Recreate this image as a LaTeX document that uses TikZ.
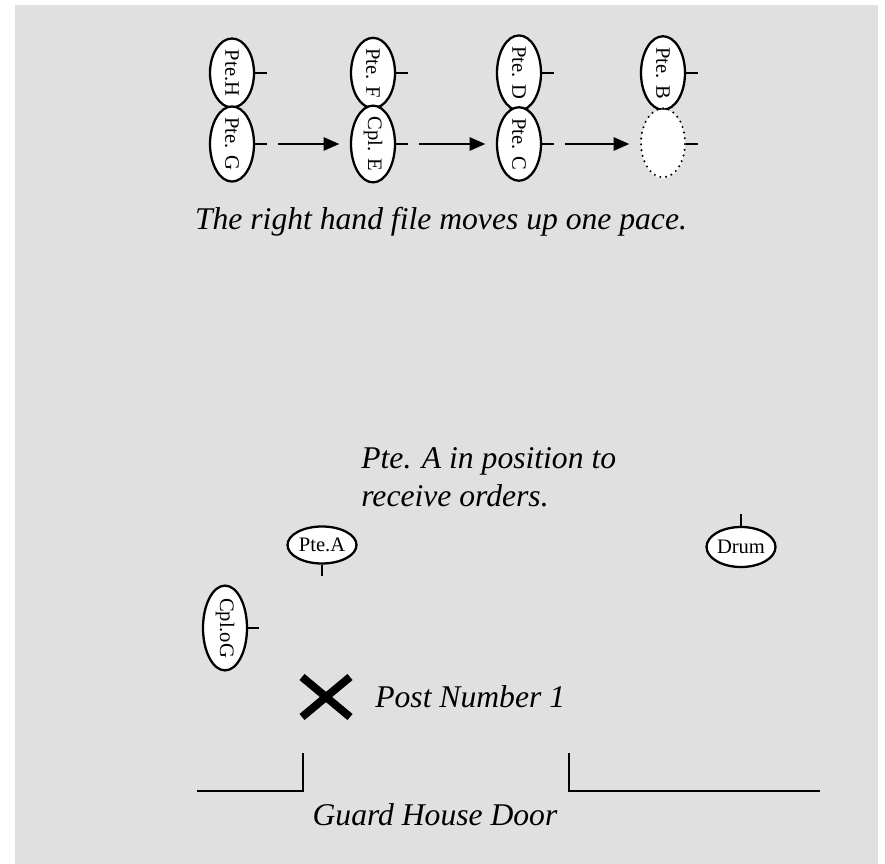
\documentclass[tikz,border=0pt]{standalone}
\usepackage{fontspec}
\setmainfont{Liberation Serif}
\usetikzlibrary{shapes.geometric,arrows.meta,calc}
\definecolor{bggray}{HTML}{E0E0E0}
\begin{document}
\begin{tikzpicture}[x=0.02cm,y=-0.02cm,
  man/.style={draw, ellipse, fill=white, line width=1.3pt, inner sep=0pt,
    font=\fontsize{11.7}{13}\selectfont},
  upright/.style={man, minimum width=0.88cm, minimum height=1.38cm},
  flat/.style={man, minimum width=1.38cm, minimum height=0.74cm},
  gap/.style={man, draw=none},
  move/.style={-{Triangle[length=9pt,width=7.5pt]}, line width=1.3pt,
    shorten <=0.46cm, shorten >=0.21cm},
  tick/.style={line width=1.3pt},
  wall/.style={line width=1.6pt},
  words/.style={font=\fontsize{18}{21.6}\selectfont\itshape, inner sep=0pt}]
\useasboundingbox (0,0) rectangle (885,864);
\fill[bggray] (15,5) rectangle (878,864);
% the two files
\node[upright] (h) at (232,73) {\rotatebox{-90}{Pte.H}};
\node[upright] (g) at (232,144) {\rotatebox{-90}{Pte. G}};
\node[upright] (f) at (373,73) {\rotatebox{-90}{Pte. F}};
\node[upright] (e) at (373,144) {\rotatebox{-90}{Cpl. E}};
\node[upright] (d) at (519,73) {\rotatebox{-90}{Pte. D}};
\node[upright] (c) at (519,144) {\rotatebox{-90}{Pte. C}};
\node[upright] (b) at (663,73) {\rotatebox{-90}{Pte. B}};
\node[upright, draw=none] (x) at (663,144) {};
\draw[line width=1.3pt, dash pattern=on 0pt off 3.3pt, line cap=round]
  (x.north) arc[start angle=90, end angle=450, x radius=0.44cm, y radius=0.69cm];
\foreach \n in {h,g,f,e,d,c,b,x}
  \draw[tick] (\n.east) -- ++(12,0);
\draw[move] (g) -- (e);
\draw[move] (e) -- (c);
\draw[move] (c) -- (x);
\node[words] (cap) at (441,222) {The right hand file moves up one pace.};
% guard mounting
\node[words, anchor=west, align=left] (orders) at (361,477)
  {Pte. A in position to\\receive orders.};
\node[flat] (a) at (322,545) {Pte.A};
\draw[tick] (a.south) -- ++(0,11);
\node[flat, minimum height=0.8cm] (drum) at (741,547) {Drum};
\draw[tick] (drum.north) -- ++(0,-12);
\node[upright] (cpl) at (225,628) {\rotatebox{-90}{Cpl.oG}};
\draw[tick] (cpl.east) -- ++(11,0);
\coordinate (post) at (326,697);
\draw[line width=4.5pt] ($(post)+(-24,-20)$) -- ($(post)+(24,20)$)
  ($(post)+(24,-20)$) -- ($(post)+(-24,20)$);
\node[words, anchor=west] (postname) at (375,697) {Post Number 1};
\draw[wall] (197,791) -- (303,791) -- (303,753);
\draw[wall] (569,753) -- (569,791) -- (820,791);
\node[words] (door) at (435,815) {Guard House Door};
\end{tikzpicture}
\end{document}
